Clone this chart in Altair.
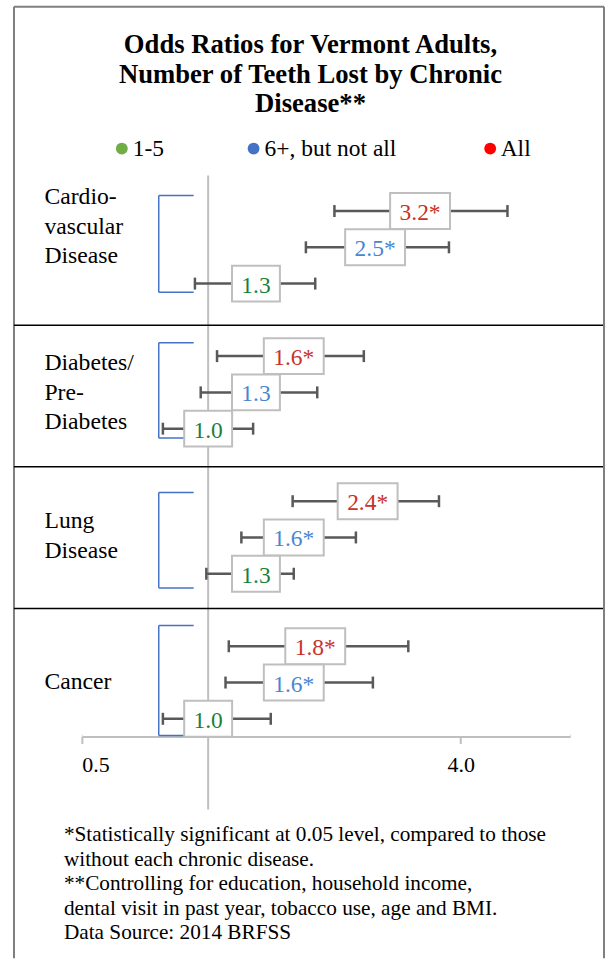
import math
import altair as alt
import pandas as pd

# ---------------- data ----------------
diseases = ["Cardiovascular Disease", "Diabetes/Pre-Diabetes", "Lung Disease", "Cancer"]
disease_lines = [["Cardio-", "vascular", "Disease"], ["Diabetes/", "Pre-", "Diabetes"],
                 ["Lung", "Disease"], ["Cancer"]]
groups = ["1-5", "6+, but not all", "All"]

odds_all = [3.2, 1.6, 2.4, 1.8]
lower_all = [2.00, 1.05, 1.59, 1.12]
upper_all = [5.17, 2.35, 3.55, 3.00]
sig_all = [True, True, True, True]

odds_6 = [2.5, 1.3, 1.6, 1.6]
lower_6 = [1.71, 0.96, 1.20, 1.10]
upper_6 = [3.75, 1.82, 2.25, 2.47]
sig_6 = [True, False, True, True]

odds_15 = [1.3, 1.0, 1.3, 1.0]
lower_15 = [0.93, 0.78, 0.99, 0.78]
upper_15 = [1.80, 1.28, 1.60, 1.41]
sig_15 = [False, False, False, False]

x_ticks = [0.5, 4.0]
x_max = 7.29

title_lines = ["Odds Ratios for Vermont Adults,", "Number of Teeth Lost by Chronic", "Disease**"]
footnote_lines = [
    "*Statistically significant at 0.05 level, compared to those",
    "without each chronic disease.",
    "**Controlling for education, household income,",
    "dental visit in past year, tobacco use, age and BMI.",
    "Data Source: 2014 BRFSS",
]

# ---------------- layout / style ----------------
W, H = 489, 562
PAD_L, PAD_T = 82, 175
CW, CH = 610, 965
P = 5  # default vega padding
Y_DOM = [-0.98, 14.49]
PX_ROW = H / (Y_DOM[1] - Y_DOM[0])
SERIF = "Liberation Serif, Times New Roman, serif"
legend_colors = ["#70ad47", "#4472c4", "#ff0000"]
text_colors = {"1-5": "#1a7f3c", "6+, but not all": "#4a86d0", "All": "#c8322a"}

px_per_oct = W / math.log2(x_max / x_ticks[0])


def prow(page_y):
    """page pixel -> row units of the y scale (annotation placement)"""
    return (page_y - PAD_T) / PX_ROW + Y_DOM[0]


def pcol(page_x):
    """page pixel -> value on the log x scale (annotation placement)"""
    return x_ticks[0] * 2 ** ((page_x - PAD_L) / px_per_oct)


k_sig = 2 ** (30 / px_per_oct)
k_ns = 2 ** (24 / px_per_oct)

rows = []
series = [
    ("All", odds_all, lower_all, upper_all, sig_all),
    ("6+, but not all", odds_6, lower_6, upper_6, sig_6),
    ("1-5", odds_15, lower_15, upper_15, sig_15),
]
for d, dis in enumerate(diseases):
    for g, (name, o, lo, hi, sg) in enumerate(series):
        rows.append(dict(disease=dis, group=name, row=d * 4 + g, odds=o[d],
                         lower=lo[d], upper=hi[d], sig=sg[d],
                         label=f"{o[d]:.1f}" + ("*" if sg[d] else "")))
df = pd.DataFrame(rows)

cat_first_baseline = [204, 370, 528.3, 689.3]
cat_rows = []
for d, lines in enumerate(disease_lines):
    for i, t in enumerate(lines):
        cat_rows.append({"t": t, "y": prow(cat_first_baseline[d] + 29.5 * i)})
cat_df = pd.DataFrame(cat_rows)
title_df = pd.DataFrame({"t": title_lines, "y": [prow(52.7 + 29.5 * i) for i in range(3)]})
foot_df = pd.DataFrame({"t": footnote_lines, "y": [prow(841.7 + 24.6 * i) for i in range(5)]})

leg_sym_px = [122, 254, 491]
leg_lab_px = [133, 265, 501.5]
leg_df = pd.DataFrame({"group": groups,
                       "sx": [pcol(p) for p in leg_sym_px],
                       "lx": [pcol(p) for p in leg_lab_px],
                       "y": [prow(148)] * 3})

br_top = [-0.43, -0.37, -0.24, -0.57]
br_bot = [2.24, 2.26, 2.39, 2.46]
br_df = pd.DataFrame({"disease": diseases,
                      "top": [d * 4 + br_top[d] for d in range(4)],
                      "bot": [d * 4 + br_bot[d] for d in range(4)]})
div_df = pd.DataFrame({"row": [3.15, 7.05, 10.96]})
one = pd.DataFrame({"a": [0]})

xs = alt.Scale(type="log", domain=[x_ticks[0], x_max], nice=False)
ys = alt.Scale(domain=Y_DOM, reverse=True, zero=False, nice=False)
X = alt.X("odds:Q", scale=xs,
          axis=alt.Axis(values=x_ticks, format=".1f", title=None, grid=False,
                        domainColor="#bfbfbf", domainWidth=2, tickColor="#bfbfbf",
                        tickWidth=2, tickSize=7, labelPadding=11, labelFont=SERIF,
                        labelFontSize=22, labelColor="black"))
Y = alt.Y("row:Q", scale=ys, axis=None)

base = alt.Chart(df)

canvas = alt.Chart(one).mark_rect(fill="transparent", strokeWidth=0).encode(
    x=alt.value(-PAD_L + P), x2=alt.value(CW - PAD_L - P),
    y=alt.value(-PAD_T + P), y2=alt.value(CH - PAD_T - P))

cover_top = alt.Chart(one).mark_rule(color="white", strokeWidth=3).encode(
    x=alt.value(0), x2=alt.value(W), y=alt.value(0))
cover_left = alt.Chart(one).mark_rule(color="white", strokeWidth=3).encode(
    x=alt.value(0), y=alt.value(0), y2=alt.value(H - 2))
cover_right = alt.Chart(one).mark_rule(color="white", strokeWidth=3).encode(
    x=alt.value(W), y=alt.value(0), y2=alt.value(H - 2))

fb = CH - PAD_T - P - 1
frame_top = alt.Chart(one).mark_rule(color="#7f7f7f", strokeWidth=2).encode(
    x=alt.value(14 - PAD_L), x2=alt.value(605 - PAD_L), y=alt.value(6 - PAD_T))
frame_left = alt.Chart(one).mark_rule(color="#7f7f7f", strokeWidth=2).encode(
    x=alt.value(14 - PAD_L), y=alt.value(6 - PAD_T), y2=alt.value(fb))
frame_right = alt.Chart(one).mark_rule(color="#7f7f7f", strokeWidth=2).encode(
    x=alt.value(605 - PAD_L), y=alt.value(6 - PAD_T), y2=alt.value(fb))

dividers = alt.Chart(div_df).mark_rule(color="black", strokeWidth=1.5).encode(
    x=alt.value(14 - PAD_L), x2=alt.value(604 - PAD_L), y=alt.Y("row:Q", scale=ys, axis=None))

refline = alt.Chart(pd.DataFrame({"v": [1.0]})).mark_rule(color="#bfbfbf", strokeWidth=2).encode(
    x=alt.X("v:Q", scale=xs), y=alt.value(0), y2=alt.value(810 - PAD_T))

bracket_v = alt.Chart(br_df).mark_rule(color="#4472c4", strokeWidth=1.5).encode(
    x=alt.value(159 - PAD_L), y=alt.Y("top:Q", scale=ys, axis=None), y2="bot:Q")
bracket_t = alt.Chart(br_df).mark_rule(color="#4472c4", strokeWidth=1.5).encode(
    x=alt.value(159 - PAD_L), x2=alt.value(194 - PAD_L), y=alt.Y("top:Q", scale=ys, axis=None))
bracket_b = alt.Chart(br_df).mark_rule(color="#4472c4", strokeWidth=1.5).encode(
    x=alt.value(159 - PAD_L), x2=alt.value(194 - PAD_L), y=alt.Y("bot:Q", scale=ys, axis=None))

whisk = base.mark_rule(color="#595959", strokeWidth=2.5).encode(
    x=alt.X("lower:Q", scale=xs), x2="upper:Q", y=Y)
caps = base.transform_fold(["lower", "upper"], as_=["end", "val"]).transform_calculate(
    y1="datum.row - 0.165", y2="datum.row + 0.165").mark_rule(
    color="#595959", strokeWidth=2.5).encode(
    x=alt.X("val:Q", scale=xs), y=alt.Y("y1:Q", scale=ys, axis=None), y2="y2:Q")

boxes = base.transform_calculate(
    bx1=f"datum.sig ? datum.odds / {k_sig} : datum.odds / {k_ns}",
    bx2=f"datum.sig ? datum.odds * {k_sig} : datum.odds * {k_ns}",
    by1="datum.row - 0.495", by2="datum.row + 0.495").mark_rect(
    fill="white", stroke="#bfbfbf", strokeWidth=2).encode(
    x=alt.X("bx1:Q", scale=xs), x2="bx2:Q", y=alt.Y("by1:Q", scale=ys, axis=None), y2="by2:Q")

color_expr = " : ".join(f"datum.group === '{g}' ? '{c}'" for g, c in text_colors.items()) + " : 'black'"
labels = base.transform_calculate(tcol=color_expr).mark_text(
    font=SERIF, fontSize=23.5, align="center", baseline="middle", dy=2).encode(
    x=X, y=Y, text="label:N", color=alt.Color("tcol:N", scale=None))

leg_color_expr = " : ".join(f"datum.group === '{g}' ? '{c}'" for g, c in zip(groups, legend_colors)) + " : 'black'"
legend_sym = alt.Chart(leg_df).transform_calculate(lcol=leg_color_expr).mark_circle(
    size=140, opacity=1).encode(
    x=alt.X("sx:Q", scale=xs), y=alt.Y("y:Q", scale=ys, axis=None),
    color=alt.Color("lcol:N", scale=None))
legend_lab = alt.Chart(leg_df).mark_text(
    font=SERIF, fontSize=23.5, align="left", baseline="middle", color="black").encode(
    x=alt.X("lx:Q", scale=xs), y=alt.Y("y:Q", scale=ys, axis=None), text="group:N")

cats = alt.Chart(cat_df).mark_text(font=SERIF, fontSize=23.7, align="left", baseline="alphabetic").encode(
    x=alt.value(44.5 - PAD_L), y=alt.Y("y:Q", scale=ys, axis=None), text="t:N")

title = alt.Chart(title_df).mark_text(
    font=SERIF, fontSize=26.7, fontWeight="bold", align="center", baseline="alphabetic").encode(
    x=alt.value(311 - PAD_L), y=alt.Y("y:Q", scale=ys, axis=None), text="t:N")

foot = alt.Chart(foot_df).mark_text(font=SERIF, fontSize=21.3, align="left", baseline="alphabetic").encode(
    x=alt.value(64 - PAD_L), y=alt.Y("y:Q", scale=ys, axis=None), text="t:N")

chart = alt.layer(
    canvas, cover_top, cover_left, cover_right, frame_top, frame_left, frame_right,
    refline, dividers, bracket_v, bracket_t, bracket_b, whisk, caps, boxes, labels,
    legend_sym, legend_lab, cats, title, foot
).properties(width=W, height=H)

chart.save("out.html", embed_options={"renderer": "svg", "actions": False})
